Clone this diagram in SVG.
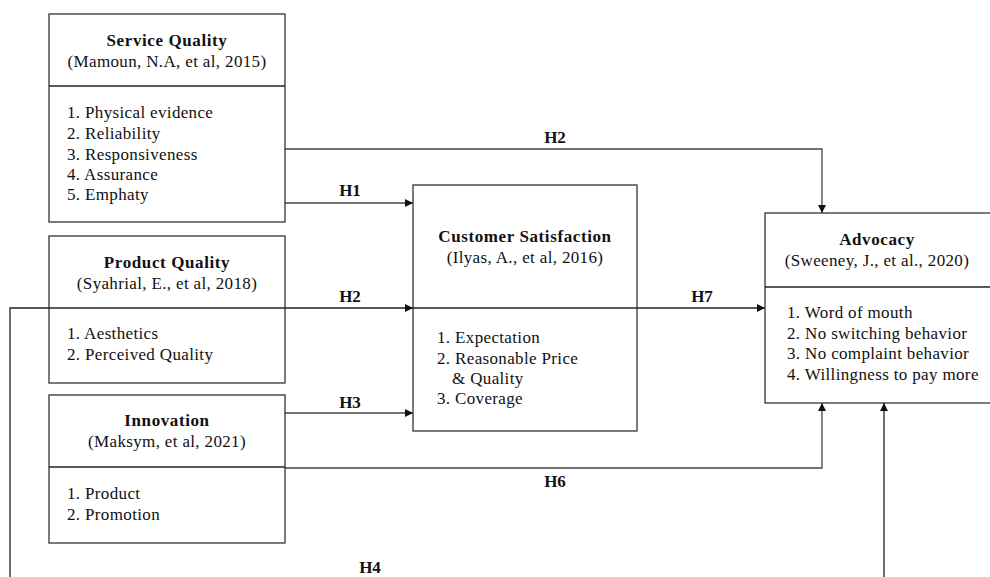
<svg xmlns="http://www.w3.org/2000/svg" width="990" height="577" viewBox="0 0 990 577">
<style>
.box{fill:#fff;stroke:#333;stroke-width:1.3}
.div{stroke:#222;stroke-width:1.3}
.t{font-family:"Liberation Serif","DejaVu Serif",serif;font-size:17px;letter-spacing:0.35px;fill:#111}
.b{font-weight:bold;text-anchor:middle;letter-spacing:0.6px}
.c{text-anchor:middle}
.ln{fill:none;stroke:#222;stroke-width:1.3}
.lg{stroke:#444}
.lb{font-family:"Liberation Serif","DejaVu Serif",serif;font-size:17px;font-weight:bold;fill:#111;text-anchor:middle}
</style>
<defs>
<marker id="ar" viewBox="0 0 10 10" refX="10" refY="5" markerWidth="9" markerHeight="8" markerUnits="userSpaceOnUse" orient="auto">
<path d="M0,0 L10,5 L0,10 z" fill="#111"/>
</marker>
</defs>
<g id="connectors">
<polyline class="ln lg" points="285,149 822,149 822,213" marker-end="url(#ar)"/>
<line class="ln lg" x1="285" y1="203" x2="413" y2="203" marker-end="url(#ar)"/>
<polyline class="ln" points="10,577 10,308 413,308" marker-end="url(#ar)"/>
<line class="ln lg" x1="285" y1="413" x2="413" y2="413" marker-end="url(#ar)"/>
<polyline class="ln lg" points="285,468 822,468 822,403" marker-end="url(#ar)"/>
<line class="ln" x1="637" y1="308" x2="765" y2="308" marker-end="url(#ar)"/>
<line class="ln" x1="884" y1="577" x2="884" y2="403" marker-end="url(#ar)"/>
<text class="lb" x="555" y="143">H2</text>
<text class="lb" x="350" y="196">H1</text>
<text class="lb" x="350" y="302">H2</text>
<text class="lb" x="350" y="408">H3</text>
<text class="lb" x="555" y="487">H6</text>
<text class="lb" x="702" y="302">H7</text>
<text class="lb" x="370" y="573">H4</text>
</g>
<g id="service-quality">
<rect class="box" x="49" y="14" width="236" height="208"/>
<line class="div" x1="49" y1="86" x2="285" y2="86"/>
<text class="t b" x="167" y="46">Service Quality</text>
<text class="t c" x="167" y="67">(Mamoun, N.A, et al, 2015)</text>
<text class="t" x="67" y="118">1. Physical evidence</text>
<text class="t" x="67" y="139">2. Reliability</text>
<text class="t" x="67" y="160">3. Responsiveness</text>
<text class="t" x="67" y="180">4. Assurance</text>
<text class="t" x="67" y="200">5. Emphaty</text>
</g>
<g id="product-quality">
<rect class="box" x="49" y="236" width="236" height="147"/>
<line class="div" x1="49" y1="308" x2="285" y2="308"/>
<text class="t b" x="167" y="268">Product Quality</text>
<text class="t c" x="167" y="289">(Syahrial, E., et al, 2018)</text>
<text class="t" x="67" y="339">1. Aesthetics</text>
<text class="t" x="67" y="360">2. Perceived Quality</text>
</g>
<g id="innovation">
<rect class="box" x="49" y="395" width="236" height="148"/>
<line class="div" x1="49" y1="467" x2="285" y2="467"/>
<text class="t b" x="167" y="426">Innovation</text>
<text class="t c" x="167" y="447">(Maksym, et al, 2021)</text>
<text class="t" x="67" y="499">1. Product</text>
<text class="t" x="67" y="520">2. Promotion</text>
</g>
<g id="customer-satisfaction">
<rect class="box" x="413" y="185" width="224" height="246"/>
<line class="div" x1="413" y1="308" x2="637" y2="308"/>
<text class="t b" x="525" y="242">Customer Satisfaction</text>
<text class="t c" x="525" y="263">(Ilyas, A., et al, 2016)</text>
<text class="t" x="437" y="343">1. Expectation</text>
<text class="t" x="437" y="364">2. Reasonable Price</text>
<text class="t" x="452" y="384">&amp; Quality</text>
<text class="t" x="437" y="404">3. Coverage</text>
</g>
<g id="advocacy">
<rect class="box" x="765" y="213" width="235" height="190"/>
<line class="div" x1="765" y1="287" x2="1000" y2="287"/>
<text class="t b" x="877" y="245">Advocacy</text>
<text class="t c" x="877" y="266">(Sweeney, J., et al., 2020)</text>
<text class="t" x="787" y="318">1. Word of mouth</text>
<text class="t" x="787" y="339">2. No switching behavior</text>
<text class="t" x="787" y="359">3. No complaint behavior</text>
<text class="t" x="787" y="380">4. Willingness to pay more</text>
</g>
</svg>
